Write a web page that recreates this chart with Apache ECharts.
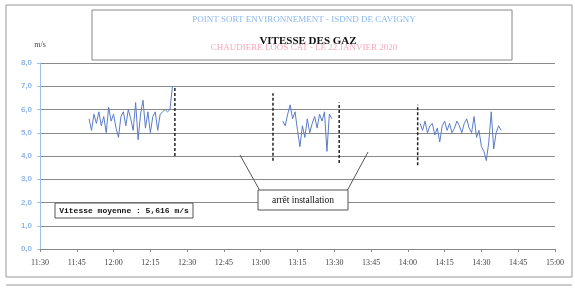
<!DOCTYPE html>
<html>
<head>
<meta charset="utf-8">
<script src="https://cdn.jsdelivr.net/npm/echarts@6/dist/echarts.min.js"></script>
<style>
  html, body { margin: 0; padding: 0; background: #fff; }
  #chart { width: 575px; height: 294px; }
</style>
</head>
<body>
<div id="chart"></div>
<script>
// x in minutes after 11:30
const tickLabels = ['11:30', '11:45', '12:00', '12:15', '12:30', '12:45', '13:00', '13:15', '13:30', '13:45', '14:00', '14:15', '14:30', '14:45', '15:00']

const seg1Start = 20
const seg1 = [5.6, 5.1, 5.8, 5.4, 5.9, 5.3, 5.7, 5.0, 6.1, 5.5, 5.8, 5.2, 4.8, 5.7, 5.9, 5.3, 6.0, 5.6, 5.1, 6.3, 4.7, 5.8, 6.4, 5.2, 5.9, 5.0, 5.7, 5.9, 5.1, 5.8, 5.9, 6.0, 5.9, 6.0, 7.0]
const seg2Start = 99
const seg2 = [5.5, 5.3, 5.8, 6.2, 5.6, 5.9, 5.1, 4.4, 5.3, 4.8, 5.6, 5.0, 5.4, 5.7, 5.2, 5.8, 5.5, 5.9, 4.2, 5.8, 5.6]
const seg3Start = 155
const seg3 = [5.4, 5.1, 5.5, 5.0, 5.3, 5.4, 4.9, 5.2, 4.6, 5.3, 5.5, 5.1, 5.4, 5.0, 5.2, 5.5, 5.3, 5.0, 5.4, 5.6, 5.2, 5.0, 5.7, 4.8, 5.1, 4.4, 4.2, 3.8, 4.6, 5.9, 4.3, 5.0, 5.3, 5.1]

// stop markers (dashed verticals)
const stopTimes = [55, 95, 122, 154]
const stopLow = [4.0, 3.8, 3.7, 3.6]
const stopHigh = [7.0, 6.7, 6.3, 6.2]

const toPairs = (start, vals) => vals.map((v, i) => [start + i, v])

const dataSeries = [seg1Start, seg2Start, seg3Start].map((s, k) => ({
  type: 'line',
  data: toPairs(s, [seg1, seg2, seg3][k]),
  showSymbol: false,
  lineStyle: { color: '#5a7cc8', width: 1 },
  z: 3
}))

const stopSeries = stopTimes.map((t, i) => ({
  type: 'line',
  data: [[t, stopLow[i]], [t, stopHigh[i]]],
  showSymbol: false,
  lineStyle: { color: '#222', width: 1.5, type: [3, 2] },
  z: 4
}))

const chart = echarts.init(document.getElementById('chart'))
chart.setOption({
  animation: false,
  grid: { left: 40, right: 20, top: 63, bottom: 45 },
  xAxis: {
    type: 'value',
    min: 0, max: 210, interval: 15,
    axisLine: { show: true, lineStyle: { color: '#888' } },
    axisTick: { show: true, length: 3, lineStyle: { color: '#888' } },
    splitLine: { show: false },
    axisLabel: {
      color: '#444', fontSize: 8, fontFamily: 'Liberation Serif', margin: 10,
      formatter: v => tickLabels[Math.round(v / 15)]
    }
  },
  yAxis: {
    type: 'value',
    min: 0, max: 8, interval: 1,
    name: 'm/s', nameGap: 14,
    nameTextStyle: { color: '#444', fontSize: 8, fontFamily: 'Liberation Serif' },
    axisLine: { show: true, lineStyle: { color: '#9cc0ea' } },
    axisTick: { show: true, length: 3, lineStyle: { color: '#9cc0ea' } },
    splitLine: { lineStyle: { color: '#8a8a8a', width: 1.2 } },
    axisLabel: {
      color: '#8fb6e6', fontSize: 8, fontFamily: 'Liberation Sans', fontWeight: 'bold',
      formatter: v => v.toFixed(1).replace('.', ',')
    }
  },
  series: [...dataSeries, ...stopSeries],
  graphic: [
    // page frame
    { type: 'rect', shape: { x: 6, y: 5, width: 566, height: 272 }, style: { fill: 'none', stroke: '#999', lineWidth: 1 }, silent: true },
    { type: 'line', shape: { x1: 6, y1: 285, x2: 572, y2: 285 }, style: { stroke: '#999', lineWidth: 1 }, silent: true },
    // title box
    { type: 'rect', shape: { x: 92, y: 10, width: 420, height: 50 }, style: { fill: '#fff', stroke: '#888', lineWidth: 1 }, z: 10 },
    { type: 'text', x: 304, y: 20, z: 11, style: { text: 'POINT SORT ENVIRONNEMENT - ISDND DE CAVIGNY', fill: '#8ab8ec', font: '9px "Liberation Serif"', align: 'center', verticalAlign: 'middle' } },
    { type: 'text', x: 304, y: 48, z: 11, style: { text: 'CHAUDIERE LOOS CAT - LE 22 JANVIER 2020', fill: '#f3a9b8', font: '9px "Liberation Serif"', align: 'center', verticalAlign: 'middle' } },
    { type: 'text', x: 308, y: 41, z: 12, style: { text: 'VITESSE DES GAZ', fill: '#111', font: 'bold 11px "Liberation Serif"', align: 'center', verticalAlign: 'middle' } },
    // mean speed box
    { type: 'rect', shape: { x: 55, y: 203, width: 138, height: 15 }, style: { fill: '#fff', stroke: '#555', lineWidth: 1 }, z: 10 },
    { type: 'text', x: 124, y: 211, z: 11, style: { text: 'Vitesse moyenne : 5,616 m/s', fill: '#111', font: 'bold 8px "Liberation Mono"', align: 'center', verticalAlign: 'middle' } },
    // stop annotation
    { type: 'line', shape: { x1: 260, y1: 191, x2: 240, y2: 155 }, style: { stroke: '#555', lineWidth: 1 }, z: 10 },
    { type: 'line', shape: { x1: 347, y1: 191, x2: 368, y2: 152 }, style: { stroke: '#555', lineWidth: 1 }, z: 10 },
    { type: 'rect', shape: { x: 258, y: 190, width: 90, height: 20 }, style: { fill: '#fff', stroke: '#555', lineWidth: 1 }, z: 10 },
    { type: 'text', x: 303, y: 200, z: 11, style: { text: 'arrêt installation', fill: '#111', font: '9.5px "Liberation Serif"', align: 'center', verticalAlign: 'middle' } }
  ]
})
</script>
</body>
</html>
